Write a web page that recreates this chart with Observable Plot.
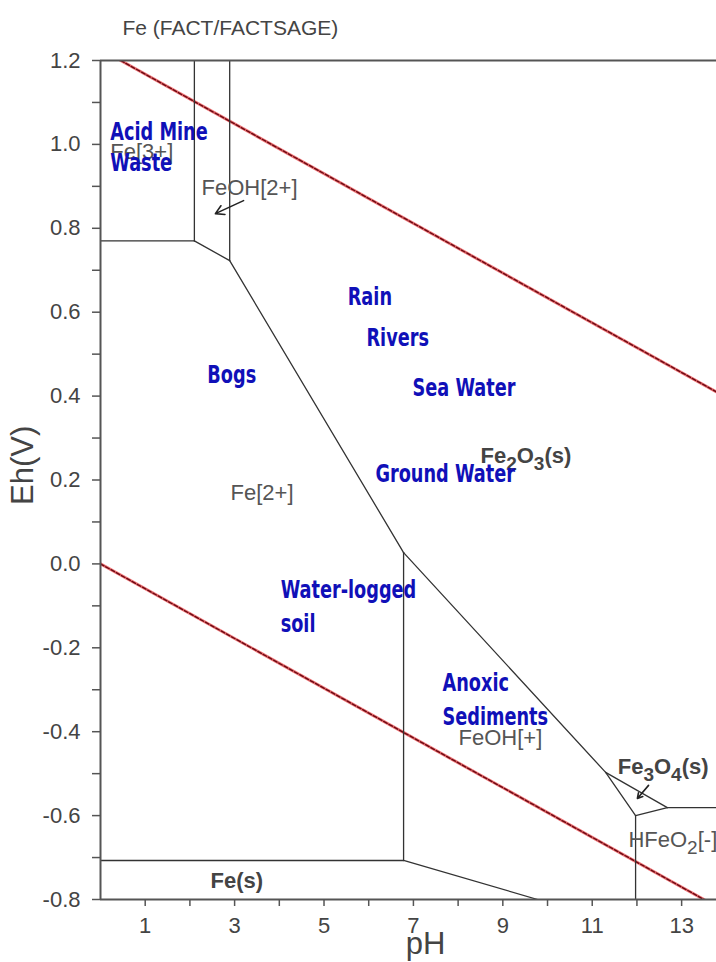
<!DOCTYPE html>
<html><head><meta charset="utf-8">
<script src="https://cdn.jsdelivr.net/npm/d3@7"></script>
<script src="https://cdn.jsdelivr.net/npm/@observablehq/plot@0.6"></script>
<style>body{margin:0;background:#fff} svg{display:block;overflow:hidden}</style>
</head><body><div id="chart"></div>
<script>
// ---- data ----
const title = "Fe (FACT/FACTSAGE)";
const yTicks = [-0.8, -0.6, -0.4, -0.2, 0.0, 0.2, 0.4, 0.6, 0.8, 1.0, 1.2];
const yMinor = [-0.7, -0.5, -0.3, -0.1, 0.1, 0.3, 0.5, 0.7, 0.9, 1.1];
const xTicks = [1, 3, 5, 7, 9, 11, 13];
const xMinor = [2, 4, 6, 8, 10, 12];

// stability-field boundaries: [pH, Eh] segments
const boundaries = [
  [[0, 0.77], [2.1, 0.77]],
  [[2.1, 1.2], [2.1, 0.77]],
  [[2.1, 0.77], [2.89, 0.723]],
  [[2.89, 1.2], [2.89, 0.723]],
  [[2.89, 0.723], [6.78, 0.027]],
  [[6.78, 0.027], [6.78, -0.707]],
  [[6.78, 0.027], [11.3, -0.497]],
  [[11.3, -0.497], [11.97, -0.60]],
  [[11.3, -0.497], [12.68, -0.581]],
  [[11.97, -0.60], [12.68, -0.581]],
  [[12.68, -0.581], [13.78, -0.581]],
  [[11.97, -0.60], [11.97, -0.8]],
  [[0, -0.707], [6.78, -0.707]],
  [[6.78, -0.707], [9.78, -0.8]]
];

// water stability limits [pH, Eh]
const waterUpper = [[0.45, 1.2], [13.78, 0.41]];
const waterLower = [[0, 0.0], [13.5, -0.8]];

// species labels (gray)
const speciesText = ["Fe[3+]", "FeOH[2+]", "Fe[2+]", "FeOH[+]", "HFeO_2[-]"];
const speciesPH   = [0.22, 2.26, 2.91, 8.01, 11.81];
const speciesEh   = [0.981, 0.895, 0.170, -0.416, -0.659];
// solid phases (bold gray)
const solidText = ["Fe_2O_3(s)", "Fe_3O_4(s)", "Fe(s)"];
const solidPH   = [8.50, 11.57, 2.46];
const solidEh   = [0.258, -0.483, -0.755];

// environment labels (blue)
const envText = ["Acid Mine", "Waste", "Rain", "Rivers", "Bogs", "Sea Water", "Ground Water", "Water-logged", "soil", "Anoxic", "Sediments"];
const envPH   = [0.22, 0.22, 5.53, 5.95, 2.39, 6.98, 6.15, 4.03, 4.03, 7.65, 7.65];
const envEh   = [1.028, 0.954, 0.635, 0.537, 0.449, 0.418, 0.213, -0.063, -0.144, -0.285, -0.366];

// pointer arrows [pH1, Eh1, pH2, Eh2]
const arrows = [[3.2, 0.866, 2.57, 0.835], [12.26, -0.528, 12.01, -0.559]];

// ---- build ----
const segRows = boundaries.flatMap((s, i) => s.map(p => ({g: i, x: p[0], y: p[1]})));
const species = speciesText.map((t, i) => ({t, x: speciesPH[i], y: speciesEh[i]}));
const solids = solidText.map((t, i) => ({t, x: solidPH[i], y: solidEh[i]}));
const env = envText.map((t, i) => ({t, x: envPH[i], y: envEh[i]}));
const arr = arrows.map(a => ({x1: a[0], y1: a[1], x2: a[2], y2: a[3]}));
const wU = waterUpper.map(p => ({x: p[0], y: p[1]}));
const wL = waterLower.map(p => ({x: p[0], y: p[1]}));

const gray = "#444";
const blue = "#1010b8";
const plot = Plot.plot({
  width: 716, height: 962,
  marginLeft: 100, marginTop: 60, marginRight: 0, marginBottom: 63,
  x: {domain: [0, 13.78]},
  y: {domain: [-0.8, 1.2]},
  style: {fontFamily: "'Liberation Sans', Arial, sans-serif", fontSize: "22px", color: gray, background: "#fff"},
  marks: [
    // water lines
    Plot.line(wU, {x: "x", y: "y", stroke: "#e8383c", strokeWidth: 3, strokeOpacity: 0.7, clip: true}),
    Plot.line(wU, {x: "x", y: "y", stroke: "#6a0a12", strokeWidth: 1.4, strokeDasharray: "4,2", clip: true}),
    Plot.line(wL, {x: "x", y: "y", stroke: "#e8383c", strokeWidth: 3, strokeOpacity: 0.7, clip: true}),
    Plot.line(wL, {x: "x", y: "y", stroke: "#6a0a12", strokeWidth: 1.4, strokeDasharray: "4,2", clip: true}),
    // boundaries
    Plot.line(segRows, {x: "x", y: "y", z: "g", stroke: "#333", strokeWidth: 1.3, clip: true}),
    // frame
    Plot.ruleX([0], {stroke: "#555", strokeWidth: 2}),
    Plot.ruleY([-0.8, 1.2], {stroke: "#555", strokeWidth: 2}),
    // axes
    Plot.axisY({ticks: yTicks, tickSize: 8, tickPadding: 12, tickFormat: d => d.toFixed(1), label: null, fontSize: 22, stroke: "#555", fill: gray, strokeWidth: 1.5}),
    Plot.axisY({ticks: yMinor, tickSize: 8, tickFormat: () => "", label: null, stroke: "#555", strokeWidth: 1.5}),
    Plot.axisX({ticks: xTicks, tickSize: 7, tickPadding: 11, tickFormat: d => String(d), label: null, fontSize: 22, stroke: "#555", fill: gray, strokeWidth: 1.5}),
    Plot.axisX({ticks: xMinor, tickSize: 7, tickFormat: () => "", label: null, stroke: "#555", strokeWidth: 1.5}),
    // axis titles
    Plot.text(["Eh(V)"], {x: 0, y: 0.235, dx: -77, rotate: -90, fontSize: 31, fill: gray, textAnchor: "middle"}),
    Plot.text(["pH"], {x: 7.27, y: -0.8, dy: 45, fontSize: 31, fill: gray, textAnchor: "middle"}),
    Plot.text([title], {x: 0.49, y: 1.2, dy: -32, fontSize: 21, fill: gray, textAnchor: "start"}),
    // labels
    Plot.text(species, {x: "x", y: "y", text: "t", textAnchor: "start", fontSize: 22, fill: "#555"}),
    Plot.text(solids, {x: "x", y: "y", text: "t", textAnchor: "start", fontSize: 22, fill: "#444", fontWeight: "bold"}),
    Plot.text(env, {x: "x", y: "y", text: "t", textAnchor: "start", fontSize: 24,
      fontFamily: "'Liberation Sans Narrow', 'DejaVu Sans Condensed', sans-serif", fontWeight: "bold", fill: blue}),
    // arrows
    Plot.arrow(arr, {x1: "x1", y1: "y1", x2: "x2", y2: "y2", stroke: "#222", strokeWidth: 1.6, headLength: 9})
  ]
});

// subscripts: "_n" -> lowered digit
d3.select(plot).selectAll("text").each(function() {
  const el = this;
  if (el.childElementCount === 0 && el.textContent.includes("_")) {
    const s = el.textContent;
    el.textContent = "";
    const parts = s.split(/_(\d)/);
    let lowered = false;
    parts.forEach((p, i) => {
      if (p === "") return;
      const ts = document.createElementNS("http://www.w3.org/2000/svg", "tspan");
      ts.textContent = p;
      if (i % 2 === 1) { ts.setAttribute("dy", "7"); ts.setAttribute("font-size", "19"); lowered = true; }
      else if (lowered) { ts.setAttribute("dy", "-7"); lowered = false; }
      el.appendChild(ts);
    });
  }
});

document.getElementById("chart").appendChild(plot);

// condense the blue environment labels (poster-style narrow bold)
d3.select(plot).selectAll(`g[fill="${blue}"] text`).each(function() {
  const len = this.getComputedTextLength();
  this.setAttribute("textLength", (len * 0.82).toFixed(1));
  this.setAttribute("lengthAdjust", "spacingAndGlyphs");
});
</script>
</body></html>
